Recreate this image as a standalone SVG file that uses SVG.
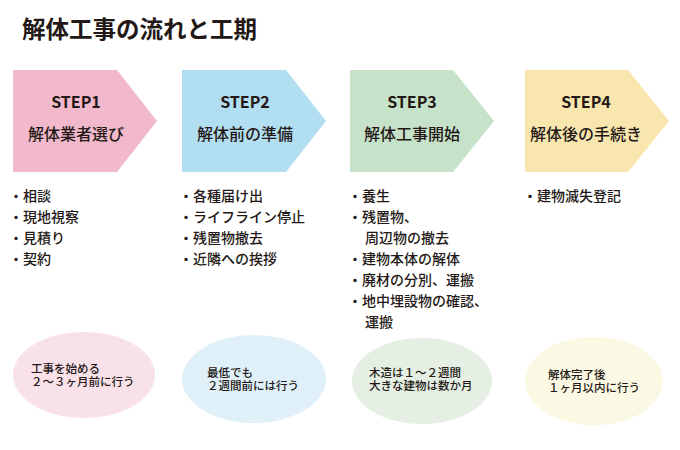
<svg xmlns="http://www.w3.org/2000/svg" width="680" height="450" viewBox="0 0 680 450">
<style>
text{font-family:"Noto Sans CJK JP","Noto Sans",sans-serif;fill:#231815}
.title{font-size:23.5px;font-weight:700}
.step{font-size:16px;font-weight:700;text-anchor:middle}
.lbl{font-size:16px;font-weight:500;text-anchor:middle}
.li{font-size:14px;font-weight:500}
.note{font-size:11.5px;font-weight:500}
</style>
<rect width="680" height="450" fill="#ffffff"/>
<text class="title" x="22" y="38">解体工事の流れと工期</text>
<g id="step1">
<polygon points="13,70 117,70 157,121 117,172 13,172" fill="#f1b9cb"/>
<text class="step" x="76" y="108">STEP1</text>
<text class="lbl" x="76" y="140">解体業者選び</text>
</g>
<g id="step2">
<polygon points="182,70 286,70 326,121 286,172 182,172" fill="#b2def1"/>
<text class="step" x="245" y="108">STEP2</text>
<text class="lbl" x="245" y="140">解体前の準備</text>
</g>
<g id="step3">
<polygon points="350,70 453,70 494,121 453,172 350,172" fill="#c6e2c9"/>
<text class="step" x="412" y="108">STEP3</text>
<text class="lbl" x="412" y="140">解体工事開始</text>
</g>
<g id="step4">
<polygon points="525,70 628,70 669,121 628,172 525,172" fill="#f9e5ae"/>
<text class="step" x="586" y="108">STEP4</text>
<text class="lbl" x="586" y="140">解体後の手続き</text>
</g>
<g id="list1">
<text class="li" x="9" y="201">・相談</text>
<text class="li" x="9" y="222">・現地視察</text>
<text class="li" x="9" y="243">・見積り</text>
<text class="li" x="9" y="264">・契約</text>
</g>
<g id="list2">
<text class="li" x="179" y="201">・各種届け出</text>
<text class="li" x="179" y="222">・ライフライン停止</text>
<text class="li" x="179" y="243">・残置物撤去</text>
<text class="li" x="179" y="264">・近隣への挨拶</text>
</g>
<g id="list3">
<text class="li" x="348" y="201">・養生</text>
<text class="li" x="348" y="222">・残置物、</text>
<text class="li" x="365" y="243">周辺物の撤去</text>
<text class="li" x="348" y="264">・建物本体の解体</text>
<text class="li" x="348" y="285">・廃材の分別、運搬</text>
<text class="li" x="348" y="306">・地中埋設物の確認、</text>
<text class="li" x="365" y="327">運搬</text>
</g>
<g id="list4">
<text class="li" x="523" y="201">・建物滅失登記</text>
</g>
<g id="note1">
<ellipse cx="84" cy="375" rx="71" ry="43" fill="#f9e1e9"/>
<text class="note" x="31" y="373">工事を始める</text>
<text class="note" x="31" y="386">２～３ヶ月前に行う</text>
</g>
<g id="note2">
<ellipse cx="254" cy="379" rx="72" ry="44" fill="#dff0f9"/>
<text class="note" x="207" y="377">最低でも</text>
<text class="note" x="207" y="390">２週間前には行う</text>
</g>
<g id="note3">
<ellipse cx="422" cy="381" rx="70" ry="43" fill="#e5efe3"/>
<text class="note" x="369" y="377">木造は１～２週間</text>
<text class="note" x="369" y="390">大きな建物は数か月</text>
</g>
<g id="note4">
<ellipse cx="594" cy="381" rx="69" ry="44" fill="#fbf9e4"/>
<text class="note" x="548" y="379">解体完了後</text>
<text class="note" x="548" y="392">１ヶ月以内に行う</text>
</g>
</svg>
